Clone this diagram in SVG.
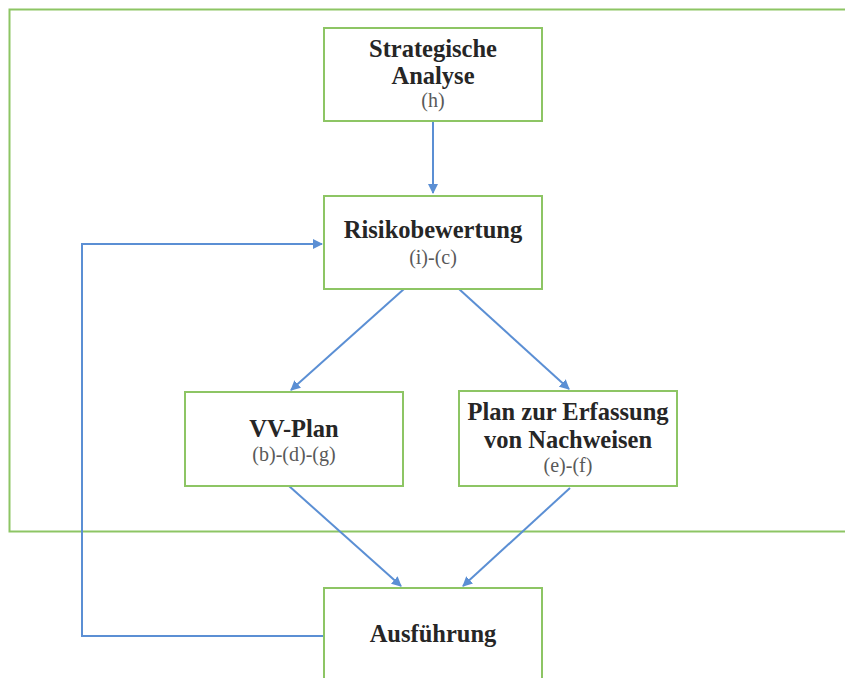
<svg xmlns="http://www.w3.org/2000/svg" width="845" height="678" viewBox="0 0 845 678">
<style>
.box{fill:#fff;stroke:#8dc564;stroke-width:2}
.frame{fill:none;stroke:#8dc564;stroke-width:2}
.t{font-family:"Liberation Serif","DejaVu Serif",serif;font-weight:bold;font-size:24.5px;fill:#262626;text-anchor:middle}
.s{font-family:"Liberation Serif","DejaVu Serif",serif;font-size:20px;fill:#595959;text-anchor:middle}
.c{fill:none;stroke:#5b8fd4;stroke-width:2}
</style>
<defs>
<marker id="a" viewBox="0 0 10 10" refX="9" refY="5" markerWidth="5" markerHeight="5" orient="auto" markerUnits="strokeWidth">
<path d="M0,0L10,5L0,10z" fill="#5b8fd4"/>
</marker>
</defs>
<rect class="frame" x="9.5" y="9.5" width="845" height="522"/>
<g id="connectors">
<path class="c" d="M433,121V193" marker-end="url(#a)"/>
<path class="c" d="M324,636H82V244H322" marker-end="url(#a)"/>
<path class="c" d="M404,289L291,390" marker-end="url(#a)"/>
<path class="c" d="M459,289L569,389" marker-end="url(#a)"/>
<path class="c" d="M289,486L401,586" marker-end="url(#a)"/>
<path class="c" d="M570,488L463,586" marker-end="url(#a)"/>
</g>
<g id="strategische">
<rect class="box" x="324" y="28" width="218" height="93"/>
<text class="t" x="433" y="57">Strategische</text>
<text class="t" x="433" y="84">Analyse</text>
<text class="s" x="433" y="107">(h)</text>
</g>
<g id="risiko">
<rect class="box" x="324" y="196" width="218" height="93"/>
<text class="t" x="433" y="238">Risikobewertung</text>
<text class="s" x="433" y="264">(i)-(c)</text>
</g>
<g id="vvplan">
<rect class="box" x="185" y="392" width="218" height="94"/>
<text class="t" x="294" y="437">VV-Plan</text>
<text class="s" x="294" y="461">(b)-(d)-(g)</text>
</g>
<g id="nachweise">
<rect class="box" x="459" y="391" width="218" height="95"/>
<text class="t" x="568" y="420">Plan zur Erfassung</text>
<text class="t" x="568" y="448">von Nachweisen</text>
<text class="s" x="568" y="472">(e)-(f)</text>
</g>
<g id="ausfuehrung">
<rect class="box" x="324" y="588" width="218" height="100"/>
<text class="t" x="433" y="642">Ausführung</text>
</g>
</svg>
